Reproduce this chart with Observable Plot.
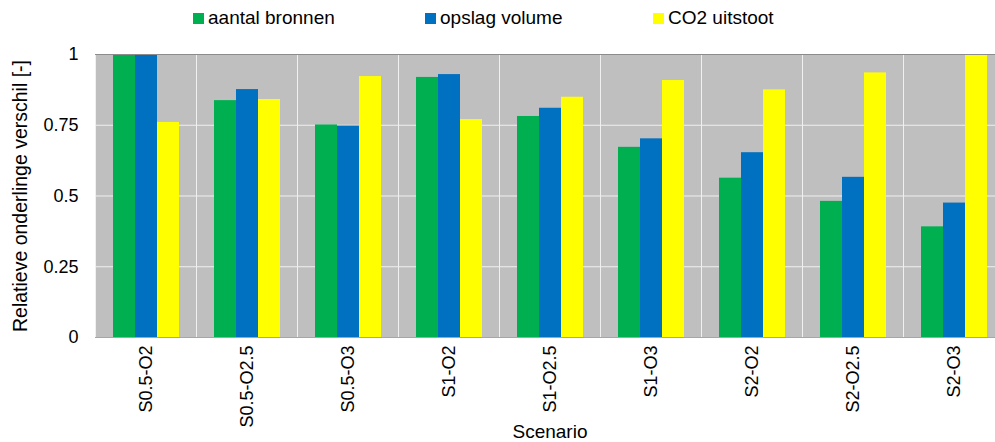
<!DOCTYPE html>
<html>
<head>
<meta charset="utf-8">
<script src="https://cdn.jsdelivr.net/npm/d3@7"></script>
<script src="https://cdn.jsdelivr.net/npm/@observablehq/plot@0.6"></script>
<style>
  html, body { margin: 0; padding: 0; background: #fff; overflow: hidden; }
  body { width: 995px; height: 442px; font-family: "Liberation Sans", Arial, sans-serif; }
  #legend { height: 36px; position: relative; font-size: 19px; color: #000; }
  #legend .item { position: absolute; top: 7px; display: flex; align-items: center; white-space: nowrap; }
  #legend .sw { width: 11px; height: 11px; margin-right: 4px; }
  #chart g[aria-label="y-axis label"] text { font-size: 19.5px; }
  #chart g[aria-label="fx-axis label"] text { font-size: 19px; }
</style>
</head>
<body>
<div id="legend"></div>
<div id="chart"></div>
<script>
const scenarios = ["S0.5-O2", "S0.5-O2.5", "S0.5-O3", "S1-O2", "S1-O2.5", "S1-O3", "S2-O2", "S2-O2.5", "S2-O3"];
const seriesNames = ["aantal bronnen", "opslag volume", "CO2 uitstoot"];
const aantalBronnen = [1, 0.837, 0.751, 0.919, 0.781, 0.672, 0.563, 0.481, 0.391];
const opslagVolume = [1, 0.876, 0.747, 0.929, 0.810, 0.702, 0.653, 0.566, 0.475];
const co2Uitstoot = [0.76, 0.841, 0.922, 0.770, 0.849, 0.908, 0.875, 0.935, 1];
const seriesColors = ["#00B050", "#0070C0", "#FFFF00"];
const yTicks = [0, 0.25, 0.5, 0.75, 1];
const legendLeft = [193, 425, 653];

const seriesValues = [aantalBronnen, opslagVolume, co2Uitstoot];
const data = scenarios.flatMap((s, i) =>
  seriesNames.map((name, k) => ({scenario: s, series: name, value: seriesValues[k][i]}))
);

// Legend (HTML, above the SVG)
const legend = document.getElementById("legend");
seriesNames.forEach((name, k) => {
  const item = document.createElement("div");
  item.className = "item";
  item.style.left = legendLeft[k] + "px";
  const sw = document.createElement("span");
  sw.className = "sw";
  sw.style.background = seriesColors[k];
  const t = document.createElement("span");
  t.textContent = name;
  item.appendChild(sw);
  item.appendChild(t);
  legend.appendChild(item);
});

const chart = Plot.plot({
  width: 995,
  height: 406,
  marginTop: 18,
  marginBottom: 105,
  marginLeft: 92,
  marginRight: -12,
  style: {fontFamily: "'Liberation Sans', Arial, sans-serif", fontSize: "18px", color: "#000", background: "#fff"},
  facet: {data, x: "scenario"},
  fx: {
    domain: scenarios, padding: 0, axis: "bottom", label: "Scenario",
    tickRotate: -90, tickSize: 0, tickPadding: 8,
    labelAnchor: "center", labelOffset: 100
  },
  x: {domain: seriesNames, paddingInner: 0, paddingOuter: 0.75, axis: null},
  y: {
    domain: [0, 1], ticks: yTicks, tickFormat: d => String(d), tickSize: 0, tickPadding: 17,
    label: "Relatieve onderlinge verschil [-]", labelArrow: false, labelAnchor: "center", labelOffset: 82
  },
  color: {domain: seriesNames, range: seriesColors},
  marks: [
    Plot.frame({fill: "#BFBFBF", stroke: "#F0F0F0"}),
    Plot.ruleY(yTicks, {stroke: "#F0F0F0", strokeOpacity: 1}),
    Plot.barY(data, {x: "series", y: "value", fill: "series"}),
    Plot.ruleY([1], {stroke: "#8C8C8C", strokeOpacity: 1}),
    Plot.ruleY([0], {stroke: "#A6A6A6", strokeOpacity: 1})
  ]
});
document.getElementById("chart").appendChild(chart);
</script>
</body>
</html>
